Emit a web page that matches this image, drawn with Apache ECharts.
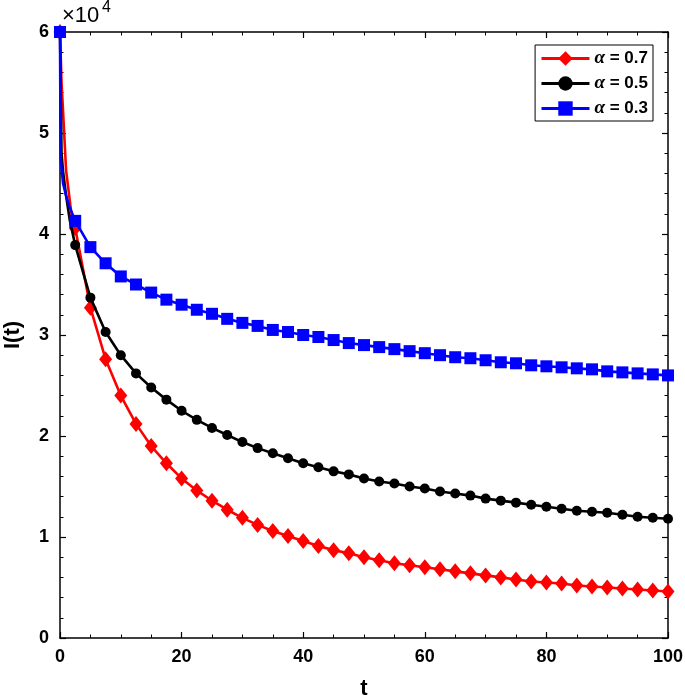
<!DOCTYPE html>
<html>
<head>
<meta charset="utf-8">
<script src="https://cdn.jsdelivr.net/npm/echarts@6/dist/echarts.min.js"></script>
<style>html,body{margin:0;padding:0;background:#fff;}#c{width:685px;height:699px;}</style>
</head>
<body>
<div id="c"></div>
<script>
// t values for the marked points (step 2.5)
var tMarked = [0,2.5,5,7.5,10,12.5,15,17.5,20,22.5,25,27.5,30,32.5,35,37.5,40,42.5,45,47.5,50,52.5,55,57.5,60,62.5,65,67.5,70,72.5,75,77.5,80,82.5,85,87.5,90,92.5,95,97.5,100];
// I(t) in units of 1e4
var alpha07 = [6.0,4.06,3.27,2.76,2.40,2.12,1.90,1.73,1.58,1.46,1.36,1.27,1.19,1.12,1.06,1.01,0.96,0.91,0.87,0.84,0.80,0.77,0.74,0.72,0.70,0.68,0.66,0.64,0.62,0.60,0.58,0.56,0.55,0.54,0.52,0.51,0.50,0.49,0.48,0.47,0.46];
var alpha05 = [6.0,3.89,3.37,3.03,2.80,2.62,2.48,2.36,2.25,2.16,2.08,2.01,1.94,1.88,1.83,1.78,1.73,1.69,1.65,1.62,1.58,1.55,1.53,1.50,1.48,1.45,1.43,1.41,1.38,1.36,1.34,1.32,1.30,1.28,1.26,1.25,1.24,1.22,1.20,1.19,1.18];
var alpha03 = [6.0,4.13,3.87,3.71,3.58,3.50,3.42,3.35,3.30,3.25,3.21,3.16,3.12,3.09,3.05,3.03,3.00,2.98,2.95,2.92,2.90,2.88,2.86,2.84,2.82,2.80,2.78,2.77,2.75,2.73,2.72,2.70,2.69,2.68,2.67,2.66,2.64,2.63,2.62,2.61,2.60];
// unmarked early points of the continuous curves (steep initial drop)
var early07T = [0.25,0.45,1,2];
var early07 = [5.5,5.28,4.63,4.14];
var early05T = [0.25,0.5,1,1.6];
var early05 = [4.8,4.62,4.38,4.14];
var early03T = [0.1,0.5,1,1.5];
var early03 = [4.75,4.5,4.38,4.28];
var xTicks = [0,20,40,60,80,100];
var yTicks = [0,1,2,3,4,5,6];

function build(vals, eT, eV){
  var d = [];
  for (var i=0;i<tMarked.length;i++) d.push({value:[tMarked[i], vals[i]]});
  for (var j=0;j<eT.length;j++) d.push({value:[eT[j], eV[j]], symbol:'none'});
  d.sort(function(a,b){return a.value[0]-b.value[0];});
  return d;
}

var chart = echarts.init(document.getElementById('c'), null, {renderer:'canvas'});
var FF = 'Liberation Sans, Arial, sans-serif';
var labelFont = {color:'#000', fontSize:18, fontWeight:'bold', fontFamily:FF};
function axisCommon(){
  return {
    axisLine:{show:true, onZero:false, lineStyle:{color:'#000', width:1.5}},
    axisTick:{show:true, inside:true, length:6, lineStyle:{color:'#000', width:1.2}},
    minorTick:{show:true, splitNumber:4, length:3.5, lineStyle:{color:'#000', width:1}},
    splitLine:{show:false}
  };
}
var xB = Object.assign(axisCommon(), {type:'value', position:'bottom', min:0, max:100, interval:20,
  axisLabel:Object.assign({margin:10}, labelFont),
  name:'t', nameLocation:'middle', nameGap:40,
  nameTextStyle:{color:'#000', fontSize:22, fontWeight:'bold', fontFamily:FF}});
var xT = Object.assign(axisCommon(), {type:'value', position:'top', min:0, max:100, interval:20, axisLabel:{show:false}});
var yL = Object.assign(axisCommon(), {type:'value', position:'left', min:0, max:6, interval:1,
  axisLabel:Object.assign({margin:11}, labelFont),
  name:'I(t)', nameLocation:'middle', nameGap:36, nameRotate:90,
  nameTextStyle:{color:'#000', fontSize:22, fontWeight:'bold', fontFamily:FF}});
yL.minorTick.splitNumber = 5;
var yR = Object.assign(axisCommon(), {type:'value', position:'right', min:0, max:6, interval:1, axisLabel:{show:false}});
yR.minorTick.splitNumber = 5;

function lineSeries(name, color, symbol, size, data, z){
  return {
    name:name, type:'line', xAxisIndex:0, yAxisIndex:0, data:data,
    symbol:symbol, symbolSize:size, showAllSymbol:true, smooth:false,
    lineStyle:{color:color, width:2.6},
    itemStyle:{color:color, borderWidth:0},
    z:z, animation:false
  };
}

chart.setOption({
  animation:false,
  backgroundColor:'#fff',
  grid:{left:60, right:17, top:32, bottom:61, containLabel:false, outerBoundsMode:'none'},
  xAxis:[xB, xT],
  yAxis:[yL, yR],
  legend:{
    orient:'vertical', right:32, top:45,
    backgroundColor:'#fff', borderColor:'#000', borderWidth:1,
    padding:[4,5,3,5], itemGap:6, itemWidth:48, itemHeight:18,
    lineStyle:{width:2.8},
    data:['α = 0.7','α = 0.5','α = 0.3'],
    formatter:function(n){ return '{a|α}{b|' + n.slice(1) + '}'; },
    textStyle:{color:'#000', fontSize:17, fontWeight:'bold', fontFamily:FF,
      rich:{a:{fontStyle:'italic', fontSize:19, fontFamily:'Liberation Serif, DejaVu Serif, serif', color:'#000'},
            b:{fontSize:17, fontWeight:'bold', fontFamily:FF, color:'#000'}}}
  },
  graphic:[
    {type:'text', left:62, top:5, style:{text:'×10', fontSize:22, fontFamily:FF, fill:'#000'}},
    {type:'text', left:102, top:0, style:{text:'4', fontSize:16, fontFamily:FF, fill:'#000'}}
  ],
  series:[
    lineSeries('α = 0.7', '#ff0000', 'diamond', [13,16], build(alpha07, early07T, early07), 2),
    lineSeries('α = 0.5', '#000000', 'circle', 10, build(alpha05, early05T, early05), 3),
    lineSeries('α = 0.3', '#0000ff', 'rect', 12, build(alpha03, early03T, early03), 4)
  ]
});
</script>
</body>
</html>
